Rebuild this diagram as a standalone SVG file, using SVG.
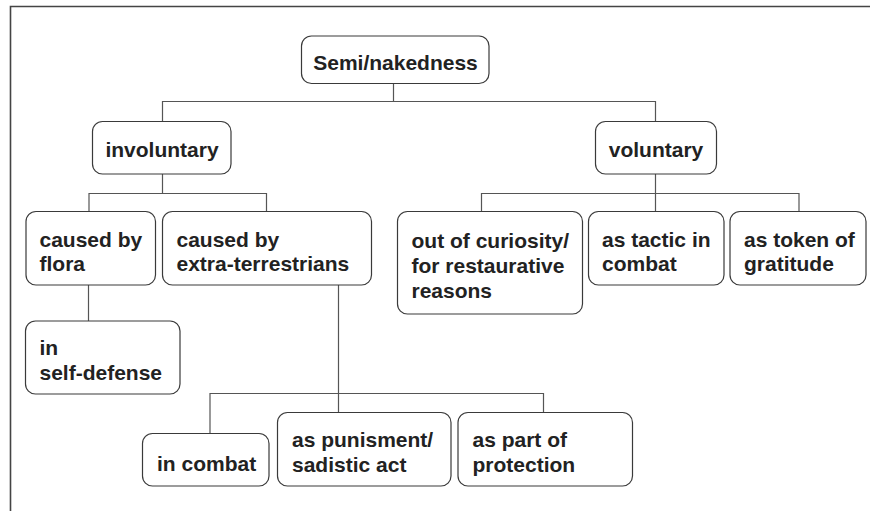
<svg xmlns="http://www.w3.org/2000/svg" width="870" height="511" viewBox="0 0 870 511">
<style>
.box{fill:#fff;stroke:#3a3a3a;stroke-width:1.2}
.lbl{font-family:"Liberation Sans",Arial,sans-serif;font-weight:bold;font-size:21px;fill:#222}
.mid{text-anchor:middle}
.conn{fill:none;stroke:#555;stroke-width:1.2}
.frame{fill:none;stroke:#444;stroke-width:1.6}
</style>
<rect width="870" height="511" fill="#fff"/>
<path class="frame" d="M10.5,511 V6.5 H870"/>
<g id="connectors">
<path class="conn" d="M393.5,83.5 V101.5 M162.5,121.5 V101.5 H655.5 V121.5"/>
<path class="conn" d="M162.5,174 V193.5 M89,211.5 V193.5 H266.5 V211.5"/>
<path class="conn" d="M655.5,174 V193.5 M481.5,211.5 V193.5 H799 V211.5 M655.5,193.5 V211.5"/>
<path class="conn" d="M88.5,285 V321"/>
<path class="conn" d="M338.5,285 V412.5 M210,433.5 V393.5 H543.5 V412.5"/>
</g>
<g id="n-semi"><rect class="box" x="301.5" y="36" width="187.5" height="47.5" rx="10"/><text class="lbl mid" x="395.5" y="69.5">Semi/nakedness</text></g>
<g id="n-involuntary"><rect class="box" x="92.5" y="121.5" width="138.5" height="52.5" rx="10"/><text class="lbl mid" x="162" y="157">involuntary</text></g>
<g id="n-voluntary"><rect class="box" x="595.5" y="121.5" width="121" height="52.5" rx="10"/><text class="lbl mid" x="656" y="157">voluntary</text></g>
<g id="n-flora"><rect class="box" x="26" y="211.5" width="129.5" height="73.5" rx="10"/><text class="lbl" x="39.5" y="247">caused by<tspan x="39.5" dy="24">flora</tspan></text></g>
<g id="n-extra"><rect class="box" x="162.5" y="211.5" width="209" height="73.5" rx="10"/><text class="lbl" x="176.5" y="247">caused by<tspan x="176.5" dy="24">extra-terrestrians</tspan></text></g>
<g id="n-curiosity"><rect class="box" x="397.5" y="211.5" width="185" height="102.5" rx="10"/><text class="lbl" x="411.5" y="248">out of curiosity/<tspan x="411.5" dy="25">for restaurative</tspan><tspan x="411.5" dy="25">reasons</tspan></text></g>
<g id="n-tactic"><rect class="box" x="588.5" y="211.5" width="135.5" height="73.5" rx="10"/><text class="lbl" x="602" y="247">as tactic in<tspan x="602" dy="24">combat</tspan></text></g>
<g id="n-token"><rect class="box" x="730" y="211.5" width="136" height="73.5" rx="10"/><text class="lbl" x="744" y="247">as token of<tspan x="744" dy="24">gratitude</tspan></text></g>
<g id="n-selfdefense"><rect class="box" x="25.5" y="321" width="154.5" height="73" rx="10"/><text class="lbl" x="39.5" y="355">in<tspan x="39.5" dy="25">self-defense</tspan></text></g>
<g id="n-incombat"><rect class="box" x="142.5" y="433.5" width="126.5" height="52.5" rx="10"/><text class="lbl" x="157" y="471">in combat</text></g>
<g id="n-punishment"><rect class="box" x="277.5" y="412.5" width="173.5" height="73.5" rx="10"/><text class="lbl" x="292" y="447">as punisment/<tspan x="292" dy="25">sadistic act</tspan></text></g>
<g id="n-protection"><rect class="box" x="458" y="412.5" width="174.5" height="73.5" rx="10"/><text class="lbl" x="472.5" y="447">as part of<tspan x="472.5" dy="25">protection</tspan></text></g>
</svg>
